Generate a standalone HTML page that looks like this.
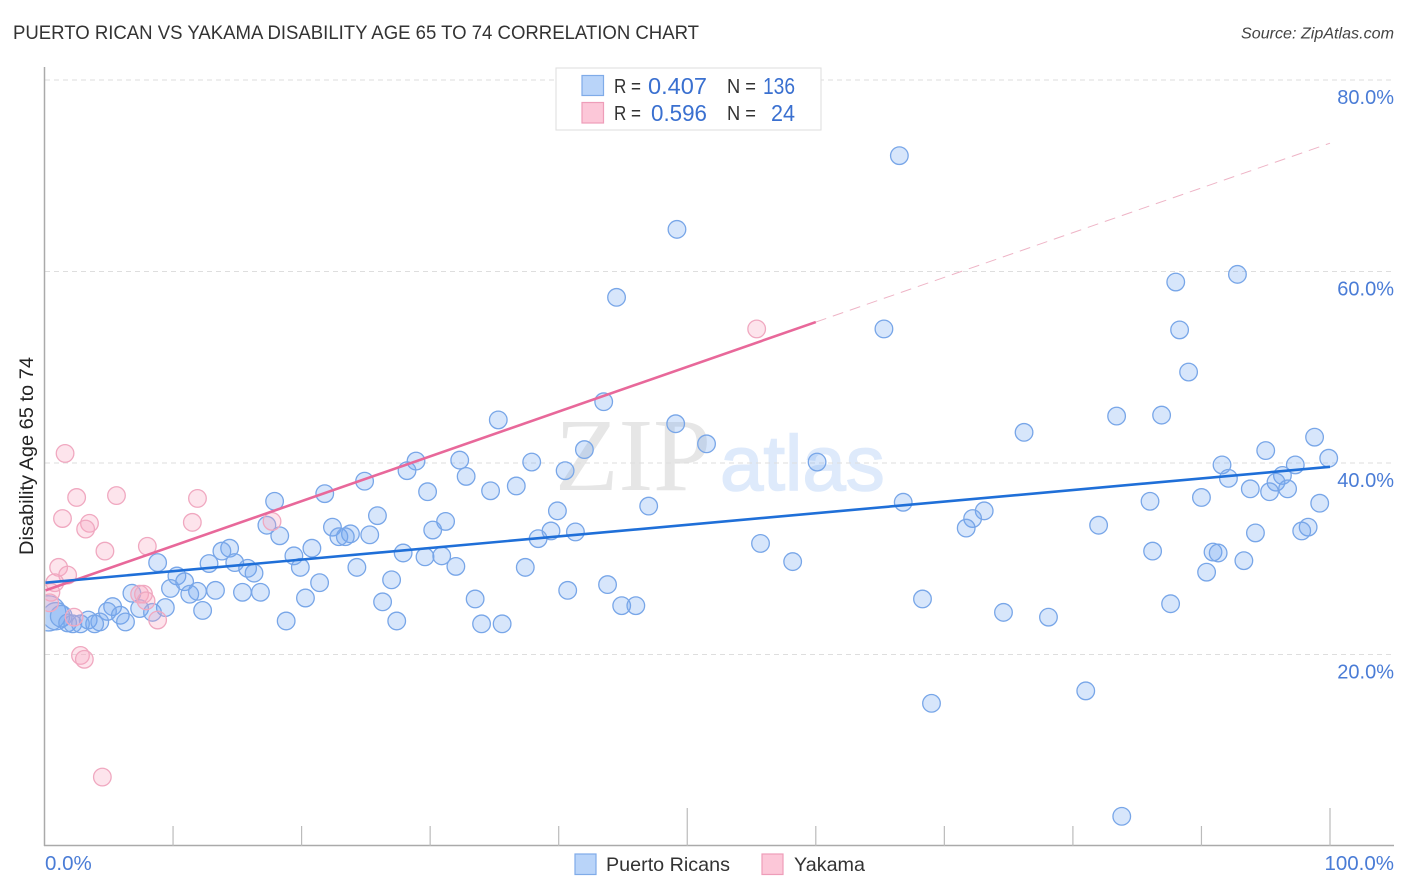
<!DOCTYPE html>
<html lang="en">
<head>
<meta charset="utf-8">
<title>Puerto Rican vs Yakama Disability Age 65 to 74 Correlation Chart</title>
<style>
html,body{margin:0;padding:0;background:#fff;}
svg{display:block;font-family:"Liberation Sans",sans-serif;}
</style>
</head>
<body>
<svg id="chart" width="1406" height="892" viewBox="0 0 1406 892" xmlns="http://www.w3.org/2000/svg">
  <defs>
    <clipPath id="plot-clip"><rect x="45.5" y="60" width="1350" height="786"/></clipPath>
  </defs>
  <rect width="1406" height="892" fill="#ffffff"/>
  <text x="13" y="39" font-size="19.5" fill="#333333" textLength="686" lengthAdjust="spacingAndGlyphs">PUERTO RICAN VS YAKAMA DISABILITY AGE 65 TO 74 CORRELATION CHART</text>
  <text x="1394" y="38.5" font-size="16" font-style="italic" fill="#444444" text-anchor="end" textLength="153" lengthAdjust="spacingAndGlyphs">Source: ZipAtlas.com</text>
  <text x="555" y="490" font-family="'Liberation Serif',serif" font-size="104" fill="#e6e6e6">ZIP</text>
  <text x="720" y="490" font-size="78" fill="#deeafb" stroke="#deeafb" stroke-width="1.5">atlas</text>
  <g id="grid"></g>
  <g id="axes"></g>
  <g id="ticklabels"></g>
  <g id="points-blue" clip-path="url(#plot-clip)"></g>
  <g id="points-pink" clip-path="url(#plot-clip)"></g>
  <g id="trends"></g>
  <text transform="translate(33,555) rotate(-90)" font-size="19" fill="#222222" textLength="198" lengthAdjust="spacingAndGlyphs">Disability Age 65 to 74</text>

  <g>
    <rect x="556" y="68" width="265" height="62" fill="#ffffff" stroke="#dddddd" stroke-width="1"/>
    <rect x="582" y="75.5" width="21.5" height="20" fill="#b9d4f9" stroke="#7fabe8" stroke-width="1.2"/>
    <rect x="582" y="102.5" width="21.5" height="20.5" fill="#fcc7d8" stroke="#ee9db9" stroke-width="1.2"/>
    <text x="614" y="93" font-size="20" fill="#333333" textLength="27" lengthAdjust="spacingAndGlyphs">R =</text>
    <text x="648" y="94" font-size="23" fill="#3a70d0" textLength="59" lengthAdjust="spacingAndGlyphs">0.407</text>
    <text x="727" y="93" font-size="20" fill="#333333" textLength="29" lengthAdjust="spacingAndGlyphs">N =</text>
    <text x="763" y="94" font-size="23" fill="#3a70d0" textLength="32" lengthAdjust="spacingAndGlyphs">136</text>
    <text x="614" y="120" font-size="20" fill="#333333" textLength="27" lengthAdjust="spacingAndGlyphs">R =</text>
    <text x="651" y="121" font-size="23" fill="#3a70d0" textLength="56" lengthAdjust="spacingAndGlyphs">0.596</text>
    <text x="727" y="120" font-size="20" fill="#333333" textLength="29" lengthAdjust="spacingAndGlyphs">N =</text>
    <text x="771" y="121" font-size="23" fill="#3a70d0" textLength="24" lengthAdjust="spacingAndGlyphs">24</text>
  </g>

  <g>
    <g>
      <rect x="575" y="854" width="21" height="20.5" fill="#b9d4f9" stroke="#7fabe8" stroke-width="1.2"/>
      <text x="606" y="871" font-size="19.5" fill="#333333" textLength="124" lengthAdjust="spacingAndGlyphs">Puerto Ricans</text>
    </g>
    <g>
      <rect x="762" y="854" width="21" height="20.5" fill="#fcc7d8" stroke="#ee9db9" stroke-width="1.2"/>
      <text x="794" y="871" font-size="19.5" fill="#333333" textLength="71" lengthAdjust="spacingAndGlyphs">Yakama</text>
    </g>
  </g>
</svg>
<script>
const yTickValues = [20, 40, 60, 80];
const yTickLabels = ["20.0%", "40.0%", "60.0%", "80.0%"];
const xTickValues = [10, 20, 30, 40, 50, 60, 70, 80, 90, 100];
const xEndValues = [0, 100];
const xEndLabels = ["0.0%", "100.0%"];

const blueX = [0.3,0.9,1.3,66.5,49.2,92.8,88.0,44.5,65.3,88.3,89.0,43.5,83.4,86.9,35.3,49.1,76.2,98.8,51.5,95.0,42.0,99.9,28.9,32.3,37.9,60.1,91.6,97.3,28.2,40.5,96.3,32.8,92.1,95.8,24.9,36.7,93.8,96.7,34.7,95.3,21.8,29.8,90.0,17.9,86.0,66.8,99.2,47.0,73.1,39.9,25.9,72.2,31.2,82.0,17.3,22.4,98.3,71.7,30.2,39.4,97.8,41.3,94.2,23.8,18.3,22.9,23.4,25.3,38.4,55.7,14.4,13.8,20.8,86.2,90.9,91.3,27.9,19.4,29.6,30.9,93.3,58.2,8.8,12.8,14.8,32.0,19.9,15.8,24.3,37.4,16.3,90.4,10.3,10.9,27.0,21.4,43.8,9.8,40.7,13.3,11.9,15.4,16.8,6.8,11.3,20.3,68.3,33.5,26.3,87.6,44.9,46.0,9.4,5.3,12.3,7.4,8.4,4.9,74.6,5.9,78.1,6.3,18.8,27.4,34.0,35.6,3.4,4.3,3.9,1.8,2.2,2.8,81.0,69.0,83.8];
const blueY = [24.3,24.0,24.0,72.1,64.4,59.7,58.9,57.3,54.0,53.9,49.5,46.4,44.9,45.0,44.5,44.1,43.2,42.7,42.0,41.3,41.4,40.5,40.2,40.3,40.1,40.1,39.8,39.8,39.2,39.2,38.7,38.6,38.4,38.0,38.1,37.6,37.3,37.3,37.1,37.0,36.8,37.0,36.4,36.0,36.0,35.9,35.8,35.5,35.0,35.0,34.5,34.2,33.9,33.5,33.5,33.3,33.3,33.2,33.0,32.9,32.9,32.8,32.7,32.6,32.4,32.3,32.3,32.5,32.1,31.6,31.1,30.8,31.1,30.8,30.7,30.6,30.6,30.3,30.2,30.3,29.8,29.7,29.6,29.5,29.6,29.2,29.1,29.0,29.1,29.1,28.5,28.6,28.2,27.6,27.8,27.5,27.3,26.9,26.7,26.7,26.6,26.5,26.5,26.4,26.3,25.9,25.8,25.8,25.5,25.3,25.1,25.1,24.9,25.0,24.6,24.8,24.4,24.5,24.4,24.1,23.9,23.4,23.5,23.5,23.2,23.2,23.6,23.4,23.2,23.3,23.2,23.2,16.2,14.9,3.1];
const blueLargeWeights = [4.0, 2.4, 1.5];

const pinkX = [55.4,1.6,5.6,2.5,11.9,1.4,3.5,3.2,11.5,17.7,8.0,4.7,1.1,1.8,0.8,0.5,0.4,7.4,7.7,7.9,8.8,2.3,2.8,3.1,4.5];
const pinkY = [54.0,41.0,36.6,36.4,36.3,34.2,33.7,33.1,33.8,33.9,31.3,30.8,29.1,28.3,27.5,26.5,25.4,26.3,26.3,25.6,23.6,23.9,19.9,19.5,7.2];

const blueTrendEnds = [27.5, 39.6];
const pinkTrendEnds = [26.7, 73.4];
const pinkSolidUntil = 60;

const NS = "http://www.w3.org/2000/svg";
const xScale = v => 44.5 + v * 12.855;
const yScale = v => 846 - v * 9.575;
const baseRadius = 8.8;
const lerp = (ends, x) => ends[0] + (ends[1] - ends[0]) * x / 100;

function make(tag, parentId, attrs) {
  const el = document.createElementNS(NS, tag);
  for (const k in attrs) el.setAttribute(k, attrs[k]);
  document.getElementById(parentId).appendChild(el);
  return el;
}

yTickValues.forEach((v, i) => {
  const line = make("line", "grid", {x1: 45, x2: 1394, y1: yScale(v), y2: yScale(v), stroke: "#dedede", "stroke-width": 1, "stroke-dasharray": "5 4"});
  
  
  const label = make("text", "ticklabels", {x: 1394, y: yScale(v) + 24, "font-size": 20, fill: "#4a7cd6", "text-anchor": "end"});
  label.textContent = yTickLabels[i];
  
  
});

const leftAxis = make("line", "axes", {x1: 44.5, x2: 44.5, y1: 67, y2: 846, stroke: "#aaaaaa", "stroke-width": 1.5});


const bottomAxis = make("line", "axes", {x1: 44, x2: 1394, y1: 845.5, y2: 845.5, stroke: "#aaaaaa", "stroke-width": 1.5});



xTickValues.forEach(v => {
  const tall = v % 50 === 0;
  const tick = make("line", "axes", {x1: xScale(v), x2: xScale(v), y1: tall ? 808 : 826, y2: 846, stroke: "#bbbbbb", "stroke-width": 1.2});
  
  
});

xEndValues.forEach((v, i) => {
  const label = make("text", "ticklabels", {x: i === 0 ? xScale(v) + 0.5 : 1394, y: 870, "font-size": 20.5, fill: "#4a7cd6", "text-anchor": i === 0 ? "start" : "end"});
  label.textContent = xEndLabels[i];
  
  
});

blueX.forEach((x, i) => {
  const w = i < blueLargeWeights.length ? blueLargeWeights[i] : 1;
  const c = make("circle", "points-blue", {cx: xScale(x), cy: yScale(blueY[i]), r: baseRadius * Math.sqrt(w), fill: "rgba(110,165,240,0.28)", stroke: "#78a6e8", "stroke-width": 1.3});
  
  
});

pinkX.forEach((x, i) => {
  const c = make("circle", "points-pink", {cx: xScale(x), cy: yScale(pinkY[i]), r: baseRadius, fill: "rgba(248,165,192,0.3)", stroke: "#f0a8c0", "stroke-width": 1.3});
  
  
});

const pinkDash = make("line", "trends", {x1: xScale(pinkSolidUntil), y1: yScale(lerp(pinkTrendEnds, pinkSolidUntil)), x2: xScale(100), y2: yScale(lerp(pinkTrendEnds, 100)), stroke: "#eeb4c6", "stroke-width": 1, "stroke-dasharray": "11 7"});


const pinkLine = make("line", "trends", {x1: xScale(0) + 1, y1: yScale(lerp(pinkTrendEnds, 0)), x2: xScale(pinkSolidUntil), y2: yScale(lerp(pinkTrendEnds, pinkSolidUntil)), stroke: "#e8689a", "stroke-width": 2.6});


const blueLine = make("line", "trends", {x1: xScale(0) + 1, y1: yScale(lerp(blueTrendEnds, 0)), x2: xScale(100), y2: yScale(lerp(blueTrendEnds, 100)), stroke: "#1f6fd8", "stroke-width": 2.6});


</script>
</body>
</html>
